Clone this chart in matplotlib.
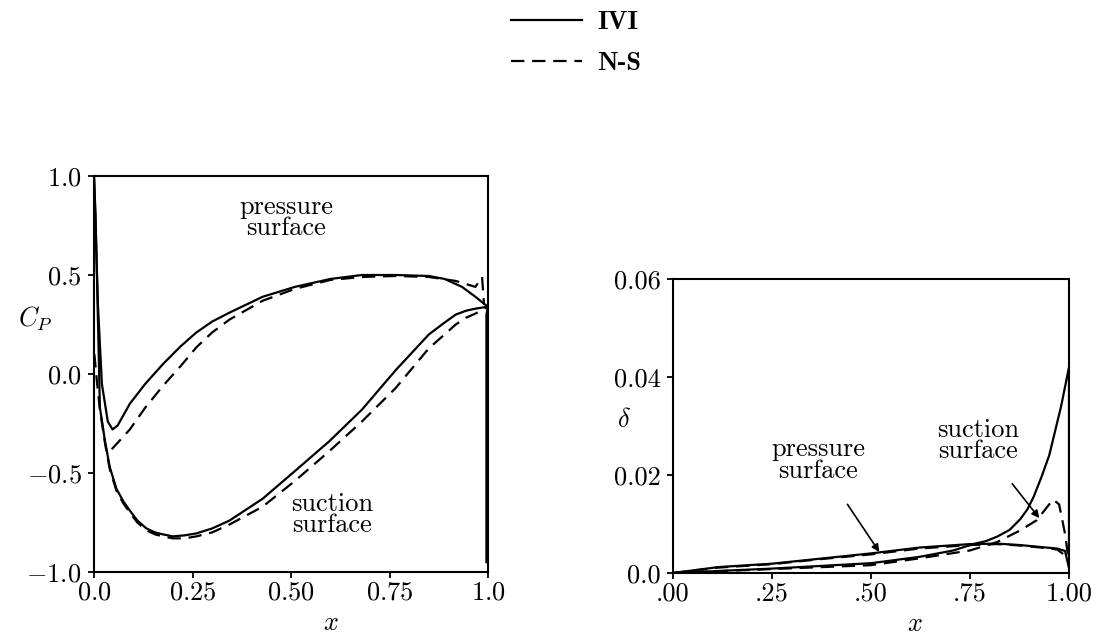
"""pressure coefficient and displacement thickness, IVI vs N-S"""
import matplotlib
matplotlib.use('Agg')
import matplotlib.pyplot as plt
from matplotlib.lines import Line2D

plt.rcParams['mathtext.fontset'] = 'cm'
plt.rcParams['font.family'] = ['cmr10', 'DejaVu Serif']
plt.rcParams['axes.unicode_minus'] = False

# Cp, IVI pressure surface
ivi_p_x = [0.0, 0.004, 0.010, 0.020, 0.035, 0.047, 0.06, 0.091, 0.13, 0.175, 0.22, 0.26,
           0.30, 0.344, 0.428, 0.51, 0.60, 0.68, 0.766, 0.85, 0.89, 0.934, 0.968, 0.993, 1.0]
ivi_p_cp = [1.0, 0.75, 0.35, -0.05, -0.24, -0.28, -0.26, -0.15, -0.05, 0.05, 0.14, 0.21,
            0.265, 0.31, 0.39, 0.44, 0.48, 0.50, 0.50, 0.495, 0.48, 0.44, 0.39, 0.35, 0.34]
# Cp, IVI suction surface (with trailing edge drop)
ivi_s_x = [0.0, 0.004, 0.008, 0.015, 0.028, 0.04, 0.057, 0.075, 0.091, 0.11, 0.133, 0.155,
           0.175, 0.20, 0.23, 0.26, 0.30, 0.344, 0.428, 0.51, 0.597, 0.68, 0.766, 0.85,
           0.89, 0.918, 0.945, 0.968, 1.0, 0.996, 0.996]
ivi_s_cp = [1.0, 0.8, 0.45, -0.17, -0.34, -0.47, -0.58, -0.645, -0.69, -0.74, -0.78, -0.80,
            -0.81, -0.82, -0.815, -0.805, -0.78, -0.74, -0.63, -0.49, -0.34, -0.18, 0.02,
            0.20, 0.26, 0.30, 0.32, 0.33, 0.34, 0.30, -0.95]
# Cp, N-S pressure surface
ns_p_x = [0.045, 0.091, 0.13, 0.175, 0.22, 0.26, 0.30, 0.344, 0.428, 0.51, 0.60, 0.68,
          0.766, 0.85, 0.918, 0.968, 0.985, 0.99]
ns_p_cp = [-0.38, -0.28, -0.17, -0.06, 0.04, 0.135, 0.21, 0.275, 0.37, 0.43, 0.475, 0.49,
           0.495, 0.49, 0.47, 0.44, 0.49, 0.35]
# Cp, N-S suction surface
ns_s_x = [0.001, 0.008, 0.015, 0.028, 0.04, 0.057, 0.075, 0.091, 0.11, 0.133, 0.155, 0.175,
          0.20, 0.23, 0.26, 0.30, 0.344, 0.428, 0.51, 0.597, 0.68, 0.766, 0.85, 0.89,
          0.918, 0.945, 0.968, 1.0]
ns_s_cp = [0.1, -0.05, -0.18, -0.35, -0.48, -0.59, -0.655, -0.70, -0.75, -0.79, -0.81,
           -0.82, -0.83, -0.83, -0.82, -0.80, -0.76, -0.67, -0.54, -0.39, -0.24, -0.07,
           0.13, 0.20, 0.25, 0.285, 0.305, 0.34]

# delta, IVI pressure surface
d_ivi_p_x = [0.0, 0.114, 0.25, 0.369, 0.5, 0.623, 0.75, 0.818, 0.877, 0.928, 0.97, 0.99, 1.0]
d_ivi_p = [0.0, 0.0012, 0.0019, 0.0029, 0.0040, 0.0052, 0.0059, 0.0060, 0.0057, 0.0053,
           0.0050, 0.0045, 0.0010]
# delta, IVI suction surface
d_ivi_s_x = [0.0, 0.25, 0.5, 0.623, 0.708, 0.758, 0.79, 0.818, 0.85, 0.877, 0.895, 0.911,
             0.93, 0.95, 0.965, 0.98, 0.99, 1.0, 1.0]
d_ivi_s = [0.0, 0.0009, 0.0020, 0.0033, 0.0046, 0.0059, 0.0065, 0.0074, 0.0088, 0.0110,
           0.0130, 0.0156, 0.0195, 0.024, 0.029, 0.034, 0.038, 0.042, 0.002]
# delta, N-S pressure surface
d_ns_p_x = [0.0, 0.114, 0.25, 0.369, 0.5, 0.623, 0.75, 0.818, 0.877, 0.928, 0.97, 1.0]
d_ns_p = [0.0, 0.0011, 0.0018, 0.0028, 0.0038, 0.0050, 0.0057, 0.0059, 0.0056, 0.0052,
          0.0048, 0.0030]
# delta, N-S suction surface
d_ns_s_x = [0.0, 0.25, 0.5, 0.623, 0.75, 0.818, 0.877, 0.919, 0.945, 0.96, 0.975, 0.99, 1.0]
d_ns_s = [0.0, 0.0008, 0.0016, 0.0030, 0.0046, 0.0063, 0.0087, 0.0108, 0.0135, 0.0150,
          0.0140, 0.0080, 0.0020]

cp_ticks = [-1.0, -0.5, 0.0, 0.5, 1.0]
cp_ticklabels = ['$-1.0$', '$-0.5$', '$0.0$', '$0.5$', '$1.0$']
x1_ticks = [0.0, 0.25, 0.5, 0.75, 1.0]
x1_ticklabels = ['$0.0$', '$0.25$', '$0.50$', '$0.75$', '$1.0$']
d_ticks = [0.0, 0.02, 0.04, 0.06]
d_ticklabels = ['0.0', '0.02', '0.04', '0.06']
x2_ticklabels = ['.00', '.25', '.50', '.75', '1.00']

W, H = 1099, 635
fig = plt.figure(figsize=(W / 100, H / 100), dpi=100)

def box(x0, y0, x1, y1):
    return [x0 / W, 1 - y1 / H, (x1 - x0) / W, (y1 - y0) / H]

solid = dict(color='black', lw=1.6, ls='-')
dashed = dict(color='black', lw=1.6, ls=(0, (6, 3.5)))
fs = 19

def style(ax):
    for s in ax.spines.values():
        s.set_linewidth(1.5)
    ax.tick_params(direction='out', length=4, width=1.3, labelsize=fs)
    ax.tick_params(axis='x', pad=2)
    ax.tick_params(axis='y', pad=5)

# left panel
ax1 = fig.add_axes(box(94, 176, 488, 572))
ax1.plot(ivi_p_x, ivi_p_cp, **solid)
ax1.plot(ivi_s_x, ivi_s_cp, **solid)
ax1.plot(ns_p_x, ns_p_cp, **dashed)
ax1.plot(ns_s_x, ns_s_cp, **dashed)
ax1.set_xlim(0, 1)
ax1.set_ylim(-1, 1)
ax1.set_xticks(x1_ticks, x1_ticklabels)
ax1.set_yticks(cp_ticks, cp_ticklabels)
ax1.set_xlabel('$x$', fontsize=fs, labelpad=-4)
ax1.xaxis.set_label_coords(0.6, -0.1)
ax1.set_ylabel('$C_P$', fontsize=fs, rotation=0, va='center')
ax1.yaxis.set_label_coords(-0.15, 0.64)
ax1.text(0.487, 0.79, 'pressure\nsurface', fontsize=fs, ha='center', va='center',
         linespacing=0.9)
ax1.text(0.605, -0.71, 'suction\nsurface', fontsize=fs, ha='center', va='center',
         linespacing=0.9)
style(ax1)

# right panel
ax2 = fig.add_axes(box(673, 279, 1069, 573))
ax2.plot(d_ivi_p_x, d_ivi_p, **solid)
ax2.plot(d_ivi_s_x, d_ivi_s, **solid)
ax2.plot(d_ns_p_x, d_ns_p, **dashed)
ax2.plot(d_ns_s_x, d_ns_s, **dashed)
ax2.set_xlim(0, 1)
ax2.set_ylim(0, 0.06)
ax2.set_xticks(x1_ticks, x2_ticklabels)
ax2.set_yticks(d_ticks, d_ticklabels)
ax2.set_xlabel(r'$x$', fontsize=fs)
ax2.xaxis.set_label_coords(0.61, -0.135)
ax2.set_ylabel(r'$\delta$', fontsize=fs, rotation=0, va='center')
ax2.yaxis.set_label_coords(-0.125, 0.52)
ax2.annotate('pressure\nsurface', xy=(0.521, 0.0043), xytext=(0.366, 0.023),
             fontsize=fs, ha='center', va='center', linespacing=0.9,
             arrowprops=dict(arrowstyle='-|>', color='black', lw=1.2,
                             shrinkA=16, shrinkB=0, mutation_scale=11))
ax2.annotate('suction\nsurface', xy=(0.925, 0.0112), xytext=(0.771, 0.027),
             fontsize=fs, ha='center', va='center', linespacing=0.9,
             arrowprops=dict(arrowstyle='-|>', color='black', lw=1.2,
                             shrinkA=16, shrinkB=0, mutation_scale=11))
style(ax2)

# legend at top
leg_handles = [Line2D([], [], **solid), Line2D([], [], **dashed)]
fig.legend(leg_handles, ['IVI', 'N-S'], loc='center', bbox_to_anchor=(576 / W, 1 - 43 / H),
           frameon=False, handlelength=2.7, handletextpad=0.55, labelspacing=0.65,
           prop={'family': 'cmb10', 'size': fs})

fig.savefig('out.png', dpi=100)
